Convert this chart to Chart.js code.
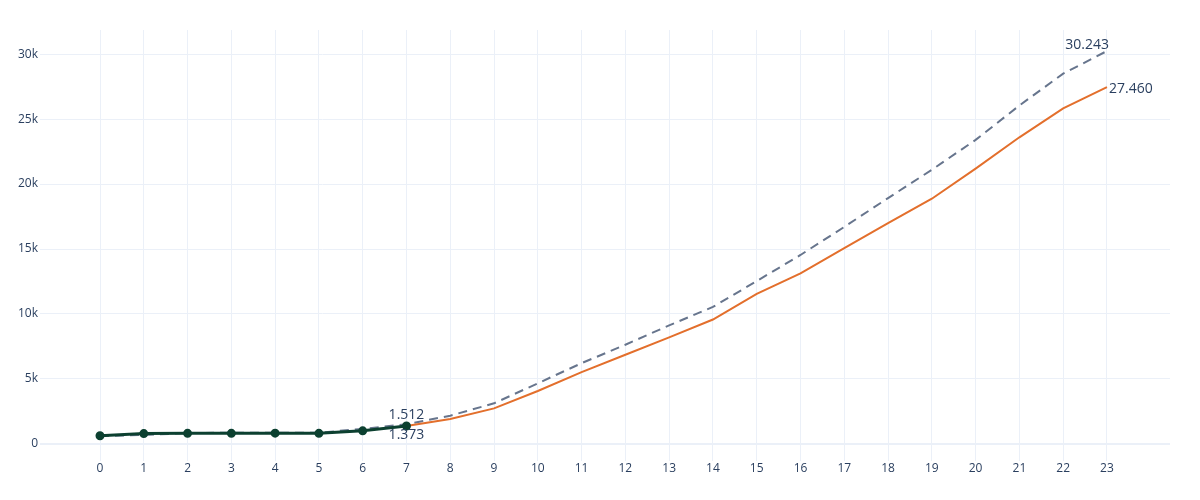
<!DOCTYPE html>
<html>
<head>
<meta charset="utf-8">
<script src="https://cdn.jsdelivr.net/npm/chart.js@4"></script>
<style>
  html, body { margin: 0; padding: 0; background: #fff; }
  #wrap { width: 1200px; height: 500px; }
</style>
</head>
<body>
<div id="wrap"><canvas id="chart"></canvas></div>
<script>
const steps = [0, 1, 2, 3, 4, 5, 6, 7, 8, 9, 10, 11, 12, 13, 14, 15, 16, 17, 18, 19, 20, 21, 22, 23];
const actual = [620, 790, 810, 810, 820, 810, 1000, 1373];
const upper = [600, 680, 830, 860, 860, 860, 1150, 1512, 2170, 3120, 4660, 6210, 7630, 9120,
               10540, 12530, 14540, 16700, 18920, 21100, 23400, 26050, 28500, 30243];
const forecast = [null, null, null, null, null, null, null, 1373, 1910, 2730, 4070, 5520, 6860, 8200,
                  9570, 11550, 13120, 15060, 16990, 18870, 21190, 23600, 25830, 27460];
const yTicks = [0, 5000, 10000, 15000, 20000, 25000, 30000];

// value labels: [dataset index, point index, text, position]
const valueLabels = [
  [0, 7, '1.512', 'top'],
  [2, 7, '1.373', 'bottom'],
  [0, 23, '30.243', 'topleft'],
  [1, 23, '27.460', 'right']
];

const toXY = arr => arr.map((v, i) => ({ x: steps[i], y: v }));

const labelPlugin = {
  id: 'valueLabels',
  afterDatasetsDraw(chart) {
    const ctx = chart.ctx;
    ctx.save();
    ctx.font = '14px "Open Sans", sans-serif';
    ctx.fillStyle = '#2a3f5f';
    valueLabels.forEach(([ds, i, text, pos]) => {
      const pt = chart.getDatasetMeta(ds).data[i];
      let x = pt.x, y = pt.y;
      if (pos === 'top') { ctx.textAlign = 'center'; ctx.textBaseline = 'bottom'; y -= 2; }
      else if (pos === 'bottom') { ctx.textAlign = 'center'; ctx.textBaseline = 'top'; y += 2; }
      else if (pos === 'topleft') { ctx.textAlign = 'right'; ctx.textBaseline = 'bottom'; x += 2; y += 1; }
      else { ctx.textAlign = 'left'; ctx.textBaseline = 'middle'; x += 2; y += 2; }
      ctx.fillText(text, x, y);
    });
    ctx.restore();
  }
};

const ctx = document.getElementById('chart');
new Chart(ctx, {
  type: 'line',
  data: {
    datasets: [{
      data: toXY(upper),
      borderColor: '#67758d',
      borderWidth: 2,
      borderDash: [9, 6],
      pointRadius: 0,
      tension: 0,
      order: 3
    }, {
      data: toXY(forecast),
      borderColor: '#e36f2c',
      borderWidth: 2,
      pointRadius: 0,
      tension: 0,
      order: 2
    }, {
      data: toXY(actual),
      borderColor: '#0c4030',
      backgroundColor: '#0c4030',
      borderWidth: 3,
      pointRadius: 3,
      pointHoverRadius: 3,
      tension: 0,
      order: 1
    }]
  },
  options: {
    responsive: true,
    maintainAspectRatio: false,
    animation: false,
    layout: { padding: { left: 16, right: 30, top: 30, bottom: 23 } },
    plugins: {
      legend: { display: false },
      tooltip: { enabled: false }
    },
    scales: {
      x: {
        type: 'linear',
        min: -1.37,
        max: 24.44,
        afterBuildTicks: s => { s.ticks = steps.map(v => ({ value: v })); },
        grid: { color: '#ebf0f8', drawTicks: false },
        border: { display: false },
        ticks: { color: '#2a3f5f', font: { family: '"Open Sans", sans-serif', size: 12 }, padding: 1, maxRotation: 0 }
      },
      y: {
        min: -1290,
        max: 31860,
        afterBuildTicks: s => { s.ticks = yTicks.map(v => ({ value: v })); },
        grid: {
          color: '#ebf0f8',
          drawTicks: false,
          lineWidth: c => (c.tick && c.tick.value === 0 ? 2 : 1)
        },
        border: { display: false },
        ticks: {
          color: '#2a3f5f',
          font: { family: '"Open Sans", sans-serif', size: 12 },
          padding: 2,
          callback: v => (v === 0 ? '0' : (v / 1000) + 'k')
        }
      }
    }
  },
  plugins: [labelPlugin]
});
</script>
</body>
</html>
